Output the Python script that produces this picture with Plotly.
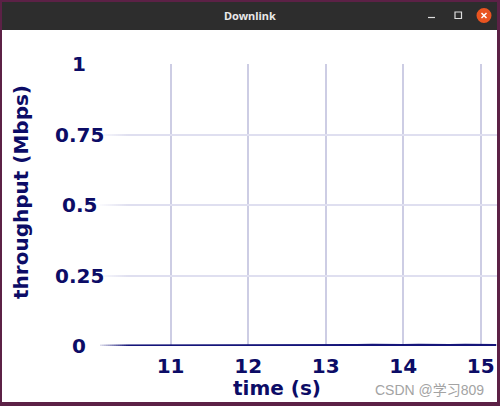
import plotly.graph_objects as go

# ---- data ----
time_s = [10.0, 10.2, 10.4, 10.6, 10.8, 11.0, 11.2, 11.4, 11.6, 11.8,
          12.0, 12.2, 12.4, 12.6, 12.8, 13.0, 13.2, 13.4, 13.6, 13.8,
          14.0, 14.2, 14.4, 14.6, 14.8, 15.0, 15.2]
throughput_mbps = [0.0, 0.0, 0.0, 0.0, 0.0, 0.0, 0.0, 0.0, 0.0, 0.0,
                   0.0, 0.0, 0.0, 0.0, 0.0, 0.0, 0.0, 0.002, 0.003, 0.002,
                   0.002, 0.003, 0.002, 0.002, 0.003, 0.002, 0.002]
x_ticks = [11, 12, 13, 14, 15]
y_tick_vals = [1, 0.75, 0.5, 0.25, 0]
y_tick_text = ["1", "0.75", "0.5", "0.25", "0"]
window_title = "Downlink"
x_title = "time (s)"
y_title = "throughput (Mbps)"
watermark = "CSDN @学习809"

# ---- geometry (pixels) ----
FW, FH = 500, 406
L, R, T, B = 100, 497, 64, 346
PW, PH = R - L, B - T


def px(x):
    return (x - L) / PW


def py(y):
    return (B - y) / PH


NAVY = "#0c0c66"
FONT = "DejaVu Sans"

fig = go.Figure()
fig.add_trace(go.Scatter(x=time_s, y=throughput_mbps, mode="lines",
                         line=dict(color="#15157a", width=3),
                         hoverinfo="skip", showlegend=False, cliponaxis=False))

shapes = []
# window body (white) over purple desktop
shapes.append(dict(type="rect", xref="paper", yref="paper", layer="below",
                   x0=px(2), x1=px(497), y0=py(30), y1=py(402),
                   fillcolor="white", line=dict(width=0)))
# title bar
shapes.append(dict(type="rect", xref="paper", yref="paper", layer="below",
                   x0=px(2), x1=px(497), y0=py(2), y1=py(30),
                   fillcolor="#2d2d2d", line=dict(width=0)))
# close button
shapes.append(dict(type="circle", xref="paper", yref="paper", layer="above",
                   x0=px(476.5), x1=px(491.5), y0=py(8), y1=py(23),
                   fillcolor="#e95420", line=dict(width=0)))
shapes.append(dict(type="line", xref="paper", yref="paper", layer="above",
                   x0=px(481.5), y0=py(13), x1=px(486.5), y1=py(18),
                   line=dict(color="white", width=1.5)))
shapes.append(dict(type="line", xref="paper", yref="paper", layer="above",
                   x0=px(481.5), y0=py(18), x1=px(486.5), y1=py(13),
                   line=dict(color="white", width=1.5)))
# minimize
shapes.append(dict(type="line", xref="paper", yref="paper", layer="above",
                   x0=px(428), x1=px(435), y0=py(17.5), y1=py(17.5),
                   line=dict(color="#dddddd", width=1.2)))
# maximize
shapes.append(dict(type="rect", xref="paper", yref="paper", layer="above",
                   x0=px(455), x1=px(461.5), y0=py(12), y1=py(18.5),
                   line=dict(color="#dddddd", width=1.2)))
# left fade of the scrolling plot
n = 16
for i in range(n):
    shapes.append(dict(type="rect", xref="paper", yref="paper", layer="above",
                       x0=px(96 + i * 2), x1=px(98 + i * 2), y0=py(36), y1=py(384),
                       fillcolor="white", opacity=max(0.0, 1 - (i + 0.5) / n),
                       line=dict(width=0)))

annotations = []
for v, t in zip(y_tick_vals, y_tick_text):
    annotations.append(dict(x=px(79), y=v, xref="paper", yref="y", text=t,
                            showarrow=False, xanchor="center", yanchor="middle",
                            font=dict(family=FONT, size=20, color=NAVY, weight="bold")))
annotations.append(dict(x=px(277), y=py(388), xref="paper", yref="paper", text=x_title,
                        showarrow=False, xanchor="center", yanchor="middle",
                        font=dict(family=FONT, size=20, color=NAVY, weight="bold")))
annotations.append(dict(x=px(21), y=py(192), xref="paper", yref="paper", text=y_title,
                        textangle=-90, showarrow=False, xanchor="center", yanchor="middle",
                        font=dict(family=FONT, size=20, color=NAVY, weight="bold")))
annotations.append(dict(x=px(250), y=py(15.5), xref="paper", yref="paper", text=window_title,
                        showarrow=False, xanchor="center", yanchor="middle",
                        font=dict(family="Noto Sans", size=11, color="#e8e8e8", weight="bold")))
annotations.append(dict(x=px(429), y=py(390), xref="paper", yref="paper", text=watermark,
                        showarrow=False, xanchor="center", yanchor="middle",
                        font=dict(family="Liberation Sans, Noto Sans CJK SC", size=14, color="#a3a3a3")))

fig.update_layout(
    width=FW, height=FH,
    margin=dict(l=L, r=FW - R, t=T, b=FH - B, pad=0),
    paper_bgcolor="#5c2146", plot_bgcolor="rgba(0,0,0,0)",
    shapes=shapes, annotations=annotations,
    xaxis=dict(range=[10.089, 15.21], tickvals=x_ticks, ticktext=[str(v) for v in x_ticks],
               showgrid=True, gridcolor="#cdcde4", gridwidth=2, zeroline=False,
               showline=False, ticks="", ticklabelstandoff=6,
               tickfont=dict(family=FONT, size=20, color=NAVY, weight="bold")),
    yaxis=dict(range=[0, 1], tickvals=y_tick_vals, showticklabels=False,
               showgrid=True, gridcolor="#dfdff0", gridwidth=1.5, zeroline=False,
               showline=False, ticks=""),
)

fig.write_html("out.html", config={"displayModeBar": False},
               post_script="document.body.style.margin='0';document.body.style.overflow='hidden';")
